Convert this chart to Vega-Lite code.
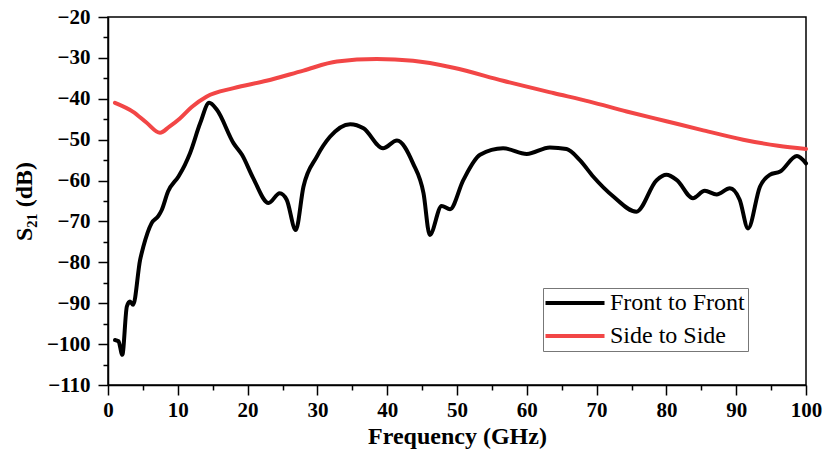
{
  "$schema": "https://vega.github.io/schema/vega-lite/v6.json",
  "width": 698,
  "height": 368,
  "autosize": {"type": "none"},
  "padding": {"left": 108, "top": 17, "right": 19, "bottom": 74},
  "background": "white",
  "config": {
    "view": {"stroke": "black", "strokeWidth": 1.5},
    "font": "Liberation Serif",
    "axis": {
      "domainColor": "black",
      "domainWidth": 1.5,
      "tickColor": "black",
      "tickWidth": 1.5,
      "grid": false,
      "labelFont": "Liberation Serif",
      "labelFontWeight": "bold",
      "labelFontSize": 21,
      "labelColor": "black",
      "titleFont": "Liberation Serif",
      "titleFontWeight": "bold",
      "titleFontSize": 24,
      "titleColor": "black"
    }
  },
  "data": {"values": [
    {"f": 1.0, "v": -99.0, "s": "Front to Front"},
    {"f": 1.5, "v": -99.3, "s": "Front to Front"},
    {"f": 2.05, "v": -102.6, "s": "Front to Front"},
    {"f": 2.7, "v": -90.8, "s": "Front to Front"},
    {"f": 3.15, "v": -89.6, "s": "Front to Front"},
    {"f": 3.6, "v": -90.4, "s": "Front to Front"},
    {"f": 4.6, "v": -79.4, "s": "Front to Front"},
    {"f": 5.06, "v": -76.2, "s": "Front to Front"},
    {"f": 6.25, "v": -70.4, "s": "Front to Front"},
    {"f": 7.2, "v": -68.7, "s": "Front to Front"},
    {"f": 7.7, "v": -67.2, "s": "Front to Front"},
    {"f": 8.6, "v": -62.7, "s": "Front to Front"},
    {"f": 10.1, "v": -59.0, "s": "Front to Front"},
    {"f": 11.0, "v": -56.2, "s": "Front to Front"},
    {"f": 11.75, "v": -53.3, "s": "Front to Front"},
    {"f": 13.2, "v": -46.0, "s": "Front to Front"},
    {"f": 14.5, "v": -41.0, "s": "Front to Front"},
    {"f": 15.6, "v": -42.7, "s": "Front to Front"},
    {"f": 18.0, "v": -50.9, "s": "Front to Front"},
    {"f": 19.2, "v": -53.7, "s": "Front to Front"},
    {"f": 20.8, "v": -59.4, "s": "Front to Front"},
    {"f": 23.0, "v": -65.5, "s": "Front to Front"},
    {"f": 24.6, "v": -63.1, "s": "Front to Front"},
    {"f": 25.6, "v": -64.7, "s": "Front to Front"},
    {"f": 26.9, "v": -72.1, "s": "Front to Front"},
    {"f": 28.0, "v": -61.5, "s": "Front to Front"},
    {"f": 29.9, "v": -54.2, "s": "Front to Front"},
    {"f": 31.8, "v": -49.3, "s": "Front to Front"},
    {"f": 34.7, "v": -46.2, "s": "Front to Front"},
    {"f": 36.6, "v": -47.2, "s": "Front to Front"},
    {"f": 39.4, "v": -52.1, "s": "Front to Front"},
    {"f": 41.4, "v": -50.2, "s": "Front to Front"},
    {"f": 43.7, "v": -55.8, "s": "Front to Front"},
    {"f": 45.2, "v": -63.1, "s": "Front to Front"},
    {"f": 46.1, "v": -73.3, "s": "Front to Front"},
    {"f": 47.8, "v": -66.2, "s": "Front to Front"},
    {"f": 49.0, "v": -67.0, "s": "Front to Front"},
    {"f": 50.9, "v": -59.9, "s": "Front to Front"},
    {"f": 53.3, "v": -53.7, "s": "Front to Front"},
    {"f": 56.6, "v": -52.1, "s": "Front to Front"},
    {"f": 60.0, "v": -53.5, "s": "Front to Front"},
    {"f": 63.3, "v": -51.9, "s": "Front to Front"},
    {"f": 65.7, "v": -52.3, "s": "Front to Front"},
    {"f": 67.6, "v": -55.0, "s": "Front to Front"},
    {"f": 69.5, "v": -59.0, "s": "Front to Front"},
    {"f": 72.4, "v": -63.9, "s": "Front to Front"},
    {"f": 75.7, "v": -67.6, "s": "Front to Front"},
    {"f": 78.6, "v": -59.9, "s": "Front to Front"},
    {"f": 80.0, "v": -58.6, "s": "Front to Front"},
    {"f": 81.5, "v": -59.9, "s": "Front to Front"},
    {"f": 83.8, "v": -64.3, "s": "Front to Front"},
    {"f": 85.5, "v": -62.5, "s": "Front to Front"},
    {"f": 87.2, "v": -63.4, "s": "Front to Front"},
    {"f": 89.1, "v": -61.9, "s": "Front to Front"},
    {"f": 90.5, "v": -64.7, "s": "Front to Front"},
    {"f": 91.7, "v": -71.7, "s": "Front to Front"},
    {"f": 93.4, "v": -61.5, "s": "Front to Front"},
    {"f": 94.8, "v": -58.6, "s": "Front to Front"},
    {"f": 96.3, "v": -57.8, "s": "Front to Front"},
    {"f": 98.7, "v": -54.0, "s": "Front to Front"},
    {"f": 100.0, "v": -55.8, "s": "Front to Front"},
    {"f": 1.0, "v": -41.0, "s": "Side to Side"},
    {"f": 3.6, "v": -43.2, "s": "Side to Side"},
    {"f": 5.5, "v": -45.8, "s": "Side to Side"},
    {"f": 7.45, "v": -48.3, "s": "Side to Side"},
    {"f": 8.8, "v": -46.8, "s": "Side to Side"},
    {"f": 10.3, "v": -44.8, "s": "Side to Side"},
    {"f": 12.0, "v": -42.0, "s": "Side to Side"},
    {"f": 14.1, "v": -39.5, "s": "Side to Side"},
    {"f": 18.0, "v": -37.4, "s": "Side to Side"},
    {"f": 22.7, "v": -35.6, "s": "Side to Side"},
    {"f": 28.0, "v": -33.1, "s": "Side to Side"},
    {"f": 32.8, "v": -30.9, "s": "Side to Side"},
    {"f": 38.5, "v": -30.3, "s": "Side to Side"},
    {"f": 43.7, "v": -30.7, "s": "Side to Side"},
    {"f": 49.5, "v": -32.4, "s": "Side to Side"},
    {"f": 56.6, "v": -35.6, "s": "Side to Side"},
    {"f": 63.8, "v": -38.6, "s": "Side to Side"},
    {"f": 69.0, "v": -40.7, "s": "Side to Side"},
    {"f": 74.3, "v": -43.1, "s": "Side to Side"},
    {"f": 80.0, "v": -45.5, "s": "Side to Side"},
    {"f": 85.0, "v": -47.6, "s": "Side to Side"},
    {"f": 91.0, "v": -50.0, "s": "Side to Side"},
    {"f": 96.0, "v": -51.5, "s": "Side to Side"},
    {"f": 100.0, "v": -52.3, "s": "Side to Side"}
  ]},
  "mark": {"type": "line", "interpolate": "monotone", "strokeWidth": 4, "strokeCap": "round", "strokeJoin": "round"},
  "encoding": {
    "x": {
      "field": "f", "type": "quantitative",
      "scale": {"domain": [0, 100], "nice": false},
      "axis": {
        "title": "Frequency (GHz)",
        "values": [0,5,10,15,20,25,30,35,40,45,50,55,60,65,70,75,80,85,90,95,100],
        "labelExpr": "datum.value % 10 === 0 ? datum.label : ''",
        "tickSize": {"condition": {"test": "datum.value % 10 === 0", "value": 10}, "value": 5},
        "labelPadding": 4,
        "labelFlush": false,
        "titlePadding": 4
      }
    },
    "y": {
      "field": "v", "type": "quantitative",
      "scale": {"domain": [-110, -20], "nice": false},
      "axis": {
        "title": "S₂₁ (dB)",
        "values": [-110,-105,-100,-95,-90,-85,-80,-75,-70,-65,-60,-55,-50,-45,-40,-35,-30,-25,-20],
        "labelExpr": "datum.value % 10 === 0 ? datum.label : ''",
        "tickSize": {"condition": {"test": "datum.value % 10 === 0", "value": 10}, "value": 5},
        "labelPadding": 8,
        "labelFlush": false,
        "titlePadding": 10
      }
    },
    "color": {
      "field": "s", "type": "nominal",
      "scale": {"domain": ["Front to Front", "Side to Side"], "range": ["#000000", "#f24646"]},
      "legend": {
        "title": null,
        "orient": "none",
        "legendX": 435,
        "legendY": 271,
        "symbolType": "M-3,0H3",
        "symbolSize": 387,
        "symbolStrokeWidth": 4,
        "symbolOffset": 17,
        "labelFont": "Liberation Serif",
        "labelFontSize": 24,
        "labelColor": "black",
        "labelOffset": 23,
        "strokeColor": "#777777",
        "padding": 3,
        "rowPadding": 9
      }
    }
  }
}
